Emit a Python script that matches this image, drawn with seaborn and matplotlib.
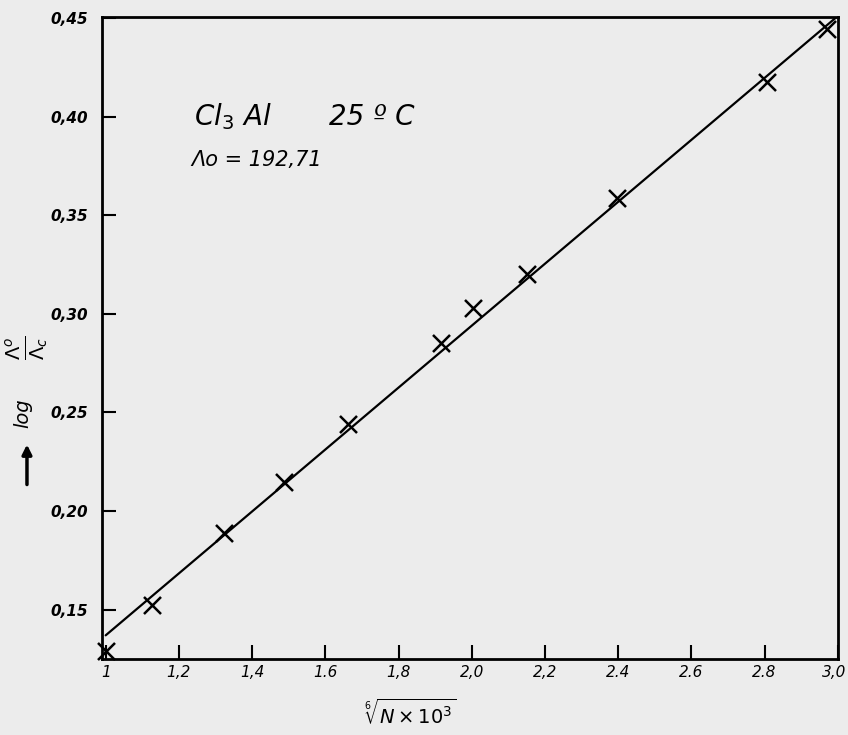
import matplotlib
matplotlib.use("Agg")
import matplotlib.pyplot as plt
import matplotlib.transforms as mtransforms
import seaborn as sns
import pandas as pd

# Measured points
x_vals = [1.000, 1.126, 1.322, 1.486, 1.663, 1.917, 2.004, 2.151, 2.397, 2.806, 2.970]
y_vals = [0.129, 0.1525, 0.189, 0.2147, 0.244, 0.2854, 0.303, 0.320, 0.3586, 0.4177, 0.4444]

# Fitted straight line (end points)
fit_x = [1.0, 3.0]
fit_y = [0.137, 0.451]

x_ticks = [1.0, 1.2, 1.4, 1.6, 1.8, 2.0, 2.2, 2.4, 2.6, 2.8, 3.0]
x_tick_labels = ["1", "1,2", "1,4", "1.6", "1,8", "2,0", "2,2", "2.4", "2.6", "2.8", "3,0"]
y_ticks = [0.15, 0.20, 0.25, 0.30, 0.35, 0.40, 0.45]
y_tick_labels = ["0,15", "0,20", "0,25", "0,30", "0,35", "0,40", "0,45"]

sns.set_style("white")
plt.rcParams["font.family"] = ["DejaVu Sans"]
plt.rcParams["mathtext.fontset"] = "dejavusans"
plt.rcParams["text.color"] = "black"

bg = "#ececec"
fig = plt.figure(figsize=(8.48, 7.35), dpi=100, facecolor=bg)
ax = fig.add_axes([0.1203, 0.1034, 0.988 - 0.1203, 0.9769 - 0.1034])
ax.set_facecolor(bg)

pts = pd.DataFrame({"x": x_vals, "y": y_vals})
fit = pd.DataFrame({"x": fit_x, "y": fit_y})

sns.lineplot(data=fit, x="x", y="y", ax=ax, color="black", linewidth=1.6)
sns.scatterplot(data=pts, x="x", y="y", ax=ax, marker="x", s=150,
                color="black", linewidth=1.8, zorder=5, clip_on=False)

ax.set_xlim(0.99, 3.0)
ax.set_ylim(0.125, 0.4505)

ax.set_xticks(x_ticks)
ax.set_xticklabels(x_tick_labels, fontsize=11, fontstyle="italic", color="black")
ax.set_yticks(y_ticks)
ax.set_yticklabels(y_tick_labels, fontsize=11, fontstyle="italic", fontweight="bold", color="black")

ax.tick_params(axis="both", direction="in", length=10, width=1.5, colors="black",
               bottom=True, left=True, top=False, right=False)
ax.tick_params(axis="x", pad=4)
ax.tick_params(axis="y", pad=10)

# shift the last x label slightly left so it stays inside the figure
last = ax.get_xticklabels()[-1]
last.set_transform(last.get_transform() + mtransforms.ScaledTranslation(-4 / 100, 0, fig.dpi_scale_trans))

for side in ["left", "bottom", "right", "top"]:
    ax.spines[side].set_visible(True)
    ax.spines[side].set_color("black")
    ax.spines[side].set_linewidth(2)

ax.set_xlabel("")
ax.set_ylabel("")

# Annotations inside the plot
ax.text(1.24, 0.40, r"$Cl_3\ Al$", fontsize=20, fontstyle="italic", va="center", ha="left")
ax.text(1.61, 0.40, "25 º C", fontsize=20, fontstyle="italic", va="center", ha="left")
ax.text(1.235, 0.378, "Λo = 192,71", fontsize=15, fontstyle="italic", va="center", ha="left")

# Axis labels
fig.text(0.4835, 0.030, r"$\sqrt[6]{N \times 10^3}$", fontsize=14, ha="center", va="center")
fig.text(0.031, 0.5265, r"$\frac{\Lambda^{o}}{\Lambda_{c}}$", fontsize=20,
         rotation=90, ha="center", va="center")
fig.text(0.0271, 0.438, "log", fontsize=14, fontstyle="italic",
         rotation=90, ha="center", va="center")
fig.add_artist(matplotlib.patches.FancyArrowPatch(
    (0.0318, 0.337), (0.0318, 0.399), transform=fig.transFigure,
    arrowstyle="-|>", mutation_scale=14, color="black", linewidth=2.5))

fig.savefig("out.png", dpi=100, facecolor=bg)
